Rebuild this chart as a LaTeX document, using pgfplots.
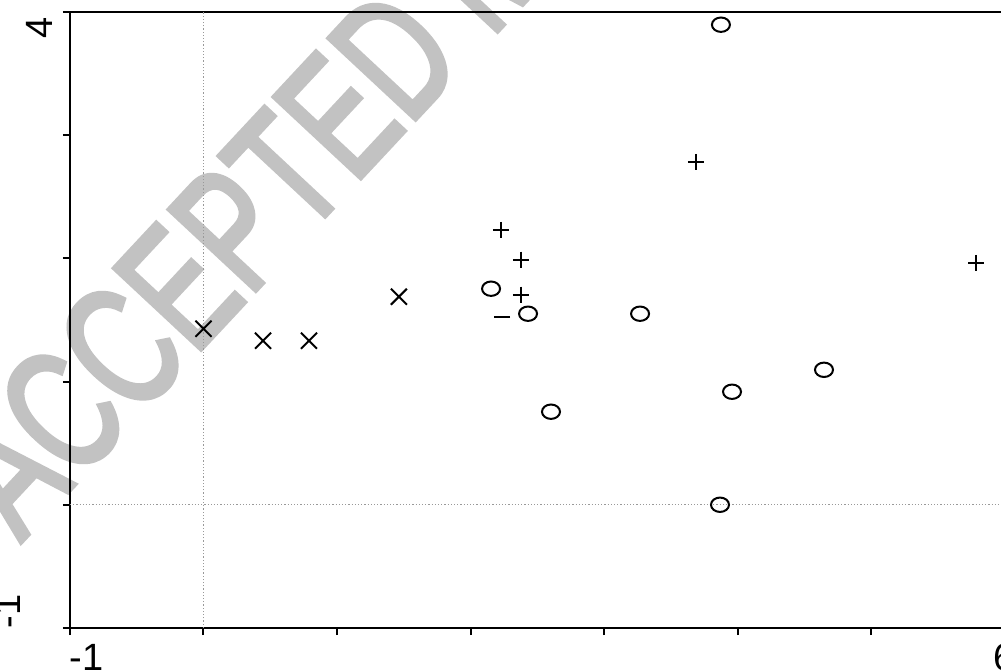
\documentclass[border=0pt]{standalone}
\usepackage{pgfplots}
\pgfplotsset{compat=1.18}
\usepackage{fontspec}
\setmainfont{Liberation Sans}
\newfontfamily\wmfont[FakeBold=3]{Liberation Sans}
\definecolor{wm}{rgb}{0.76,0.76,0.76}

\pgfplotstableread{
x y
0.00 1.428
0.446 1.331
0.790 1.331
1.464 1.688
}\crosses
\pgfplotstableread{
x y
2.228 2.231
2.378 1.988
2.378 1.704
3.689 2.783
5.787 1.963
}\pluses
\pgfplotstableread{
x y
2.236 1.525
}\minuses
\pgfplotstableread{
x y
3.876 3.895
2.154 1.753
2.431 1.550
3.270 1.550
2.603 0.755
3.959 0.917
4.648 1.095
3.869 0.000
}\circles

\begin{document}
\begin{tikzpicture}
% watermark (behind everything)
\node[rotate=47, anchor=base west, inner sep=0pt, text=wm,
      font=\wmfont\fontsize{86}{86}\selectfont] at (-24.9pt,42.6pt) {\scalebox{0.7}[1]{ACCEPTED MANUSCRIPT}};
\begin{axis}[
  scale only axis,
  width=467.25pt, height=308.125pt,
  xmin=-1, xmax=6, ymin=-1, ymax=4,
  axis line style={line width=1.2pt, black},
  xtick={-1,0,1,2,3,4,5,6},
  xticklabels={{\makebox[0pt][l]{-1}},,,,,,,6},
  ytick={-1,0,1,2,3,4},
  yticklabels={{\raisebox{21pt}{\makebox[0pt][l]{-1}}},,,,,{\raisebox{5pt}{\makebox[0pt][r]{4\hspace{3pt}}}}},
  xtick pos=bottom, ytick pos=left,
  tick align=outside,
  major tick length=3.5pt,
  tick style={line width=1pt, black},
  xticklabel style={font=\fontsize{19}{19}\selectfont, anchor=base, yshift=-17.5pt},
  yticklabel style={font=\fontsize{19}{19}\selectfont, rotate=90, anchor=base},
  clip=false,
]
\draw[gray!80, line width=0.6pt, densely dotted] (axis cs:0,-1) -- (axis cs:0,4);
\draw[gray!80, line width=0.6pt, densely dotted] (axis cs:-1,0) -- (axis cs:6,0);
\addplot[only marks, mark=x, mark size=5.66pt, mark options={line width=1pt, black}] table {\crosses};
\addplot[only marks, mark=+, mark size=4pt, mark options={line width=1pt, black}] table {\pluses};
\addplot[only marks, mark=-, mark size=4pt, mark options={line width=1pt, black}] table {\minuses};
\addplot[only marks, mark=o, mark size=3.6pt, mark options={line width=1pt, black, xscale=1.25}] table {\circles};
\end{axis}
\pgfresetboundingbox
\path[use as bounding box] (-35pt,-21.5pt) rectangle (465.5pt,314pt);
\end{tikzpicture}
\end{document}
